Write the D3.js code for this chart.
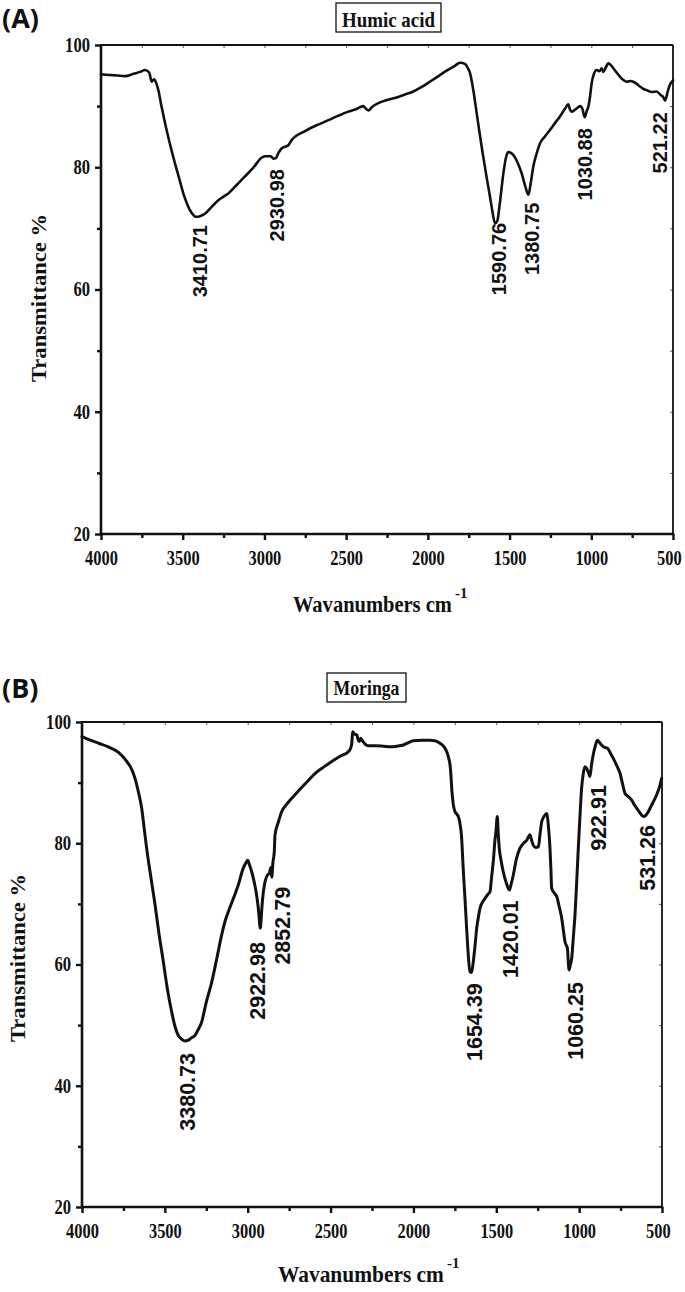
<!DOCTYPE html>
<html><head><meta charset="utf-8">
<script src="https://cdn.jsdelivr.net/npm/d3@7"></script>
<style>body{margin:0;background:#fff}svg{display:block}</style>
</head><body><div id="chart"></div>
<script>
// ---------- data ----------
const xTickValues = [4000, 3500, 3000, 2500, 2000, 1500, 1000, 500];
const xMinorTicks = [3750, 3250, 2750, 2250, 1750, 1250, 750];
const yTickValues = [20, 40, 60, 80, 100];
const yMinorTicks = [30, 50, 70, 90];

const humicWavenumber = [4000,3950,3900,3853,3800,3760,3731,3705,3690,3675,3660,3649,3630,3608,3580,3547,3520,3496,3470,3445,3420,3405,3385,3364,3320,3282,3250,3221,3170,3119,3060,3020,2997,2960,2945,2930,2915,2894,2870,2854,2835,2813,2760,2711,2660,2609,2550,2487,2440,2395,2380,2364,2340,2303,2250,2191,2140,2089,2040,1987,1935,1885,1840,1803,1773,1755,1742,1720,1701,1680,1661,1640,1620,1605,1589,1575,1560,1538,1520,1508,1490,1477,1450,1426,1405,1385,1370,1355,1335,1314,1285,1253,1220,1192,1160,1141,1130,1120,1100,1090,1069,1055,1040,1028,1018,1008,998,985,967,950,936,926,910,896,880,865,845,824,800,783,760,743,720,702,680,661,630,600,575,560,549,540,535,519,500];
const humicTransmittance = [95.2,95.1,95.0,94.9,95.3,95.6,95.9,95.5,94.0,94.4,93.6,92.6,90.0,87.2,84.0,80.6,78.0,75.7,73.8,72.5,71.9,71.9,72.1,72.4,73.6,74.6,75.2,75.7,77.1,78.5,80.2,81.5,81.8,81.8,81.4,81.5,82.3,83.1,83.4,83.6,84.4,85.0,85.8,86.5,87.1,87.7,88.4,89.1,89.5,90.0,89.6,89.3,89.9,90.5,91.0,91.4,91.9,92.4,93.1,94.0,94.9,95.8,96.5,97.1,96.9,96.2,95.4,92.3,88.8,85.0,81.7,78.3,75.2,72.8,70.8,71.2,74.0,79.0,81.8,82.5,82.3,82.0,80.7,79.0,77.0,75.5,77.5,80.1,82.2,83.9,85.0,86.1,87.3,88.3,89.6,90.3,89.4,89.1,89.4,89.6,90.0,89.6,88.2,89.2,89.9,91.5,93.7,95.2,95.9,95.7,96.2,95.6,96.4,97.0,96.7,96.2,95.5,94.8,94.2,94.0,94.1,94.0,93.6,93.2,92.8,92.6,92.3,92.4,91.8,91.5,90.9,91.5,92.1,93.5,94.2];

const moringaWavenumber = [4000,3950,3900,3841,3780,3730,3700,3680,3660,3640,3625,3610,3585,3559,3535,3509,3485,3459,3440,3419,3395,3380,3360,3340,3318,3300,3278,3250,3217,3185,3157,3135,3117,3085,3057,3027,3010,3000,2990,2976,2960,2946,2935,2924,2917,2912,2896,2880,2870,2860,2855,2848,2840,2835,2815,2795,2760,2715,2650,2594,2540,2493,2440,2393,2380,2372,2367,2355,2342,2335,2328,2318,2305,2290,2272,2232,2180,2141,2100,2061,2030,2001,1950,1900,1870,1840,1815,1799,1785,1779,1772,1769,1760,1749,1738,1729,1715,1709,1700,1689,1679,1669,1659,1649,1639,1628,1618,1608,1598,1583,1568,1553,1538,1528,1518,1508,1502,1494,1488,1482,1470,1458,1440,1421,1410,1397,1378,1357,1336,1316,1297,1287,1277,1262,1246,1236,1226,1210,1196,1186,1176,1170,1166,1150,1135,1120,1105,1095,1085,1071,1061,1053,1045,1035,1025,1015,1005,995,985,975,965,951,943,935,925,915,903,890,877,864,847,830,812,794,773,753,738,723,703,683,668,653,633,613,598,583,568,553,532,515,502];
const moringaTransmittance = [97.6,97.0,96.5,95.9,95.0,93.5,92.2,90.7,88.5,85.8,82.5,79.2,74.5,69.8,65.0,60.4,56.0,52.2,49.9,48.3,47.6,47.4,47.5,47.9,48.3,49.2,50.5,53.8,57.1,61.2,64.9,67.3,68.7,71.0,73.1,75.9,76.8,77.2,76.5,75.3,73.5,71.4,69.0,66.0,68.3,70.3,73.6,74.8,75.0,76.0,74.4,76.8,78.5,81.4,83.5,85.2,86.6,88.0,89.9,91.5,92.6,93.5,94.4,95.1,95.6,96.5,98.4,98.0,97.9,97.2,96.8,97.3,96.8,96.3,96.1,96.1,96.0,95.9,96.0,96.2,96.6,96.9,97.0,97.0,96.9,96.5,95.9,95.1,93.8,92.9,90.5,89.1,86.5,85.2,84.8,84.4,82.5,80.8,76.0,70.9,66.0,61.6,58.8,58.7,60.4,63.2,66.0,67.8,69.3,70.3,70.9,71.5,72.0,74.5,77.0,80.5,81.9,84.4,81.5,79.2,77.0,75.3,73.5,72.3,73.3,74.8,77.5,79.2,80.0,80.5,81.4,80.5,79.7,79.3,79.4,81.5,83.5,84.5,84.9,83.0,79.2,75.5,72.6,71.8,71.2,69.5,67.6,65.6,63.7,62.7,59.1,60.0,61.0,64.5,68.2,73.5,79.2,84.5,89.1,91.5,92.6,92.1,91.6,91.0,93.0,94.6,96.0,97.0,96.6,96.2,95.8,95.7,94.9,94.0,92.8,91.5,89.8,88.2,87.7,87.1,86.4,85.8,85.0,84.4,84.6,85.2,86.0,86.8,88.0,89.3,90.7];

// peak annotations: label text, anchor wavenumber, transmittance at label top
const humicPeakLabels = ["3410.71","2930.98","1590.76","1380.75","1030.88","521.22"];
const humicPeakWn     = [3397, 2923, 1567, 1363, 1039, 580];
const humicPeakTop    = [70.55, 79.7, 70.9, 74.2, 86.4, 89.0];

const moringaPeakLabels = ["3380.73","2922.98","2852.79","1654.39","1420.01","1060.25","922.91","531.26"];
const moringaPeakWn     = [3366, 2940, 2790, 1631, 1412, 1025, 886, 590];
const moringaPeakTop    = [45.4, 63.7, 72.8, 56.9, 70.6, 57.1, 89.6, 83.0];

const panelTags = ["(A)", "(B)"];
const panelTitles = ["Humic acid", "Moringa"];
const xAxisTitle = "Wavanumbers cm";
const xAxisTitleSup = "-1";
const yAxisTitle = "Transmittance %";

// ---------- drawing ----------
const W = 685, H = 1292;
const svg = d3.select("#chart").append("svg").attr("width", W).attr("height", H)
  .style("background", "#fff");

const SERIF = "'Liberation Serif','Times New Roman',serif";
const SANS = "'Liberation Sans',Arial,sans-serif";
const INK = "#111";

function condense(sel, f) {
  sel.each(function () {
    const l = this.getComputedTextLength();
    this.setAttribute("textLength", l * f);
    this.setAttribute("lengthAdjust", "spacingAndGlyphs");
  });
}

const panels = [
  { tag: panelTags[0], title: panelTitles[0], wn: humicWavenumber, t: humicTransmittance,
    lw: humicPeakWn, lt: humicPeakTop, lab: humicPeakLabels,
    left: 101, right: 673, top: 45, bottom: 534, tagY: 28,
    box: [336, 3, 105, 29], titleY: 27, titleLen: 93,
    xlabY: 612, xlabLen: 159, ylabX: 46, ylabC: 298, peakFont: 20, lineW: 2.6 },
  { tag: panelTags[1], title: panelTitles[1], wn: moringaWavenumber, t: moringaTransmittance,
    lw: moringaPeakWn, lt: moringaPeakTop, lab: moringaPeakLabels,
    left: 82, right: 662, top: 722, bottom: 1207, tagY: 698,
    box: [327, 673, 79, 29], titleY: 695, titleLen: 66,
    xlabY: 1282, xlabLen: 166, ylabX: 25, ylabC: 958, peakFont: 21.5, lineW: 3 }
];

panels.forEach(p => {
  const g = svg.append("g");
  const x = d3.scaleLinear().domain([4000, 500]).range([p.left, p.right]);
  const y = d3.scaleLinear().domain([20, 100]).range([p.bottom, p.top]);

  // panel tag
  g.append("text").attr("x", 2).attr("y", p.tagY)
    .attr("font-family", "'Open Sans','Noto Sans',sans-serif").attr("font-weight", 700)
    .attr("font-size", 27).attr("fill", INK).text(p.tag);

  // title box
  g.append("rect").attr("x", p.box[0]).attr("y", p.box[1]).attr("width", p.box[2]).attr("height", p.box[3])
    .attr("fill", "none").attr("stroke", INK).attr("stroke-width", 1.3);
  g.append("text").attr("x", p.box[0] + p.box[2] / 2).attr("y", p.titleY)
    .attr("text-anchor", "middle").attr("font-family", SERIF).attr("font-weight", 700)
    .attr("font-size", 22).attr("fill", INK)
    .attr("textLength", p.titleLen).attr("lengthAdjust", "spacingAndGlyphs").text(p.title);

  // axes
  const xAx = g.append("g").attr("transform", `translate(0,${p.bottom})`)
    .call(d3.axisBottom(x).tickValues(xTickValues).tickSize(6).tickPadding(11).tickFormat(d3.format("d")));
  const xMin = g.append("g").attr("transform", `translate(0,${p.bottom})`)
    .call(d3.axisBottom(x).tickValues(xMinorTicks).tickSize(4).tickFormat(""));
  const yAx = g.append("g").attr("transform", `translate(${p.left},0)`)
    .call(d3.axisLeft(y).tickValues(yTickValues).tickSize(6).tickPadding(5).tickFormat(d3.format("d")));
  const yMin = g.append("g").attr("transform", `translate(${p.left},0)`)
    .call(d3.axisLeft(y).tickValues(yMinorTicks).tickSize(4).tickFormat(""));
  const xTop = g.append("g").attr("transform", `translate(0,${p.top})`)
    .call(d3.axisBottom(x).tickValues(xTickValues.concat(xMinorTicks)).tickSize(3).tickFormat(""));
  const yRight = g.append("g").attr("transform", `translate(${p.right},0)`)
    .call(d3.axisLeft(y).tickValues(yTickValues.concat(yMinorTicks)).tickSize(3).tickFormat(""));

  [xAx, xMin, yAx, yMin].forEach(a => {
    a.select(".domain").remove();
    a.selectAll(".tick line").attr("stroke", INK).attr("stroke-width", 2.4);
  });
  [xTop, yRight].forEach(a => {
    a.select(".domain").remove();
    a.selectAll(".tick line").attr("stroke", "#555").attr("stroke-width", 1);
  });
  [xAx, yAx].forEach(a => {
    a.selectAll(".tick text").attr("font-family", SERIF).attr("font-weight", 700)
      .attr("font-size", 20).attr("fill", INK);
  });
  // horizontally condensed serif numerals (scale about the tick's own centre)
  xAx.selectAll(".tick text").attr("transform", "scale(0.82,1)");
  xAx.selectAll(".tick text").filter(d => d === 500).attr("dx", -5);
  condense(yAx.selectAll(".tick text"), 0.83);

  // frame
  g.append("line").attr("x1", p.left).attr("x2", p.right).attr("y1", p.top).attr("y2", p.top)
    .attr("stroke", INK).attr("stroke-width", 1.8);
  g.append("line").attr("x1", p.right).attr("x2", p.right).attr("y1", p.top).attr("y2", p.bottom)
    .attr("stroke", INK).attr("stroke-width", 1.8);
  g.append("line").attr("x1", p.left - 1.2).attr("x2", p.right + 1.2).attr("y1", p.bottom).attr("y2", p.bottom)
    .attr("stroke", INK).attr("stroke-width", 2.6);
  g.append("line").attr("x1", p.left).attr("x2", p.left).attr("y1", p.top - 1).attr("y2", p.bottom + 1)
    .attr("stroke", INK).attr("stroke-width", 2.6);

  // spectrum
  const pts = p.wn.map((w, i) => [w, p.t[i]]);
  g.append("path").datum(pts)
    .attr("fill", "none").attr("stroke", INK).attr("stroke-width", p.lineW)
    .attr("stroke-linejoin", "round").attr("stroke-linecap", "round")
    .attr("d", d3.line().x(d => x(d[0])).y(d => y(d[1])).curve(d3.curveMonotoneX));

  // peak labels
  p.lab.forEach((txt, i) => {
    const px = x(p.lw[i]), py = y(p.lt[i]);
    g.append("text").attr("transform", `translate(${px},${py}) rotate(-90)`)
      .attr("text-anchor", "end").attr("dy", "0.35em")
      .attr("font-family", SANS).attr("font-weight", 700).attr("font-size", p.peakFont)
      .attr("fill", INK).text(txt);
  });

  // x axis title (condensed with a scale transform so its box is the drawn box)
  const cx = (p.left + p.right) / 2;
  const xt = g.append("text").attr("x", 0).attr("y", 0)
    .attr("font-family", SERIF).attr("font-weight", 700).attr("font-size", 24).attr("fill", INK)
    .text(xAxisTitle);
  const nat = xt.node().getComputedTextLength();
  xt.attr("transform", `translate(${cx - 94},${p.xlabY}) scale(${p.xlabLen / nat},1)`);
  g.append("text").attr("x", cx - 94 + p.xlabLen + 3).attr("y", p.xlabY - 14)
    .attr("font-family", SERIF).attr("font-weight", 700).attr("font-size", 15).attr("fill", INK)
    .text(xAxisTitleSup);

  // y axis title
  g.append("text").attr("transform", `translate(${p.ylabX},${p.ylabC}) rotate(-90)`)
    .attr("text-anchor", "middle")
    .attr("font-family", SERIF).attr("font-weight", 700).attr("font-size", 22).attr("fill", INK)
    .attr("textLength", 168).attr("lengthAdjust", "spacingAndGlyphs").text(yAxisTitle);
});
</script>
</body></html>
